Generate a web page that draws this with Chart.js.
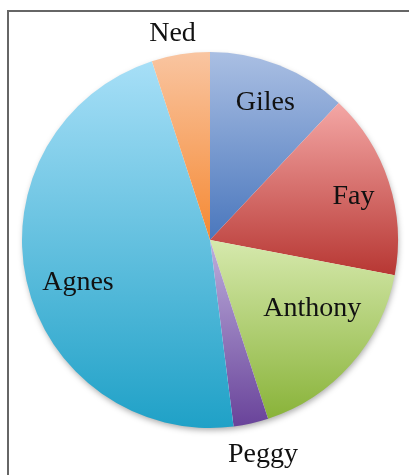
<!DOCTYPE html>
<html>
<head>
<meta charset="utf-8">
<script src="https://cdn.jsdelivr.net/npm/chart.js@4"></script>
<style>
  html, body { margin: 0; padding: 0; background: #fff; }
  #wrap { width: 409px; height: 475px; position: relative; }
</style>
</head>
<body>
<div id="wrap"><canvas id="pieChart"></canvas></div>
<script>
// data (percent of the whole)
const names = ['Giles', 'Fay', 'Anthony', 'Peggy', 'Agnes', 'Ned'];
const shares = [12, 16, 17, 3, 47, 5];
// light (top) and dark (bottom) colour of each slice
const lightColors = ['#aabfe3', '#f4a7a5', '#d6e9ad', '#bdafdc', '#a7dff7', '#f9c5a1'];
const darkColors = ['#4a77bd', '#b73733', '#89b339', '#69439a', '#1fa1c7', '#f58933'];

// where each name sits: [fraction of radius, angle nudge in degrees]
const labelPlace = [[0.80, 0], [0.80, 0.5], [0.65, -8.3], [1.165, -1.4], [0.735, -4.5], [1.125, -1.2]];

// vertical extent of one slice, worked out from the chart area and the data
function sliceSpan(chart, i) {
    const area = chart.chartArea;
    const cx = (area.left + area.right) / 2;
    const cy = (area.top + area.bottom) / 2;
    const r = Math.min(area.right - area.left, area.bottom - area.top) / 2;
    const total = shares.reduce((a, b) => a + b, 0);
    let start = -Math.PI / 2;
    for (let k = 0; k < i; k++) start += shares[k] / total * Math.PI * 2;
    const end = start + shares[i] / total * Math.PI * 2;
    const ys = [cy, cy + r * Math.sin(start), cy + r * Math.sin(end)];
    // top and bottom of the circle if they fall inside the slice
    [-Math.PI / 2, Math.PI / 2, Math.PI * 1.5].forEach(a => {
        if (a > start && a < end) ys.push(cy + r * Math.sin(a));
    });
    return [Math.min(...ys), Math.max(...ys)];
}

const framePlugin = {
    id: 'frame',
    beforeDraw(chart) {
        const ctx = chart.ctx;
        ctx.save();
        ctx.strokeStyle = '#666';
        ctx.lineWidth = 2;
        ctx.beginPath();
        ctx.moveTo(8, chart.height + 5);
        ctx.lineTo(8, 11);
        ctx.lineTo(chart.width + 5, 11);
        ctx.stroke();
        ctx.restore();
    }
};

// one soft shadow under the whole pie
const shadowPlugin = {
    id: 'pieShadow',
    beforeDatasetsDraw(chart) {
        const arc = chart.getDatasetMeta(0).data[0];
        if (!arc) return;
        const ctx = chart.ctx;
        ctx.save();
        ctx.shadowColor = 'rgba(0,0,0,0.35)';
        ctx.shadowBlur = 6;
        ctx.shadowOffsetX = 1;
        ctx.shadowOffsetY = 3;
        ctx.fillStyle = '#fff';
        ctx.beginPath();
        ctx.arc(arc.x, arc.y, arc.outerRadius - 1, 0, Math.PI * 2);
        ctx.fill();
        ctx.restore();
    }
};

const labelPlugin = {
    id: 'sliceLabels',
    afterDraw(chart) {
        const ctx = chart.ctx;
        const arcs = chart.getDatasetMeta(0).data;
        ctx.save();
        ctx.font = '28px "Liberation Serif", "DejaVu Serif", serif';
        ctx.fillStyle = '#111';
        ctx.textAlign = 'center';
        ctx.textBaseline = 'alphabetic';
        arcs.forEach((arc, i) => {
            const [f, nudge] = labelPlace[i];
            const mid = (arc.startAngle + arc.endAngle) / 2 + nudge * Math.PI / 180;
            const dist = arc.outerRadius * f;
            // the point is the middle of the capitals, baseline sits 9px lower
            ctx.fillText(names[i], arc.x + Math.cos(mid) * dist, arc.y + Math.sin(mid) * dist + 9.5);
        });
        ctx.restore();
    }
};

const ctx = document.getElementById('pieChart').getContext('2d');
const chartInstance = new Chart(ctx, {
    type: 'pie',
    data: {
        labels: names,
        datasets: [{
            data: shares,
            borderWidth: 0,
            backgroundColor: (c) => {
                const chart = c.chart;
                if (!chart.chartArea || c.dataIndex === undefined) return lightColors[c.dataIndex || 0];
                const [y0, y1] = sliceSpan(chart, c.dataIndex);
                const g = chart.ctx.createLinearGradient(0, y0, 0, y1);
                g.addColorStop(0, lightColors[c.dataIndex]);
                g.addColorStop(1, darkColors[c.dataIndex]);
                return g;
            }
        }]
    },
    options: {
        responsive: true,
        maintainAspectRatio: false,
        animation: false,
        layout: { padding: { left: 22, right: 11, top: 52, bottom: 47 } },
        plugins: {
            legend: { display: false },
            tooltip: { enabled: false }
        }
    },
    plugins: [framePlugin, shadowPlugin, labelPlugin]
});
</script>
</body>
</html>
